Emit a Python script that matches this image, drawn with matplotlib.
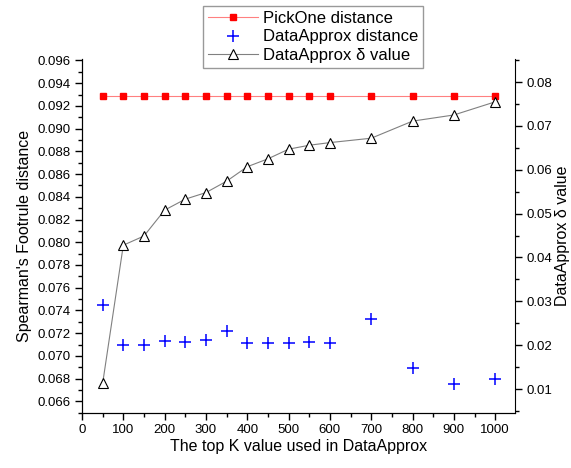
import matplotlib
matplotlib.use('Agg')
import matplotlib.pyplot as plt
from matplotlib.ticker import MultipleLocator, FormatStrFormatter

plt.rcParams['font.family'] = ['Liberation Sans', 'DejaVu Sans']

# top K verdier
k_verdier = [50, 100, 150, 200, 250, 300, 350, 400, 450, 500, 550, 600, 700, 800, 900, 1000]

pickone_avstand = [0.0929] * len(k_verdier)
dataapprox_avstand = [0.0745, 0.0710, 0.0710, 0.0713, 0.07126, 0.07144, 0.0722, 0.07111,
                      0.0711, 0.07114, 0.0712, 0.0711, 0.07322, 0.06894, 0.06753, 0.06794]
delta_verdi = [0.0113, 0.0428, 0.0449, 0.0508, 0.0533, 0.0548, 0.0574, 0.0607,
               0.0625, 0.0647, 0.0656, 0.0662, 0.0672, 0.0711, 0.0725, 0.0755]

fig = plt.figure(figsize=(5.71, 4.68), dpi=100)
ax = fig.add_axes([0.1436, 0.1182, 0.7584, 0.7551])
ax2 = ax.twinx()

l1, = ax.plot(k_verdier, pickone_avstand, color='#ff8080', linewidth=0.8,
              marker='s', markersize=5, markerfacecolor='red', markeredgecolor='red',
              label='PickOne distance', zorder=3)
l2, = ax.plot(k_verdier, dataapprox_avstand, linestyle='none', marker='+', markersize=8,
              markeredgewidth=1.1, color='blue', label='DataApprox distance', zorder=3)
l3, = ax2.plot(k_verdier, delta_verdi, color='gray', linewidth=0.8, marker='^',
               markersize=7.5, markerfacecolor='white', markeredgecolor='black',
               markeredgewidth=0.8, label='DataApprox δ value')

ax.set_xlim(0, 1048)
ax.set_ylim(0.065, 0.0961)
ax2.set_ylim(0.0046, 0.0852)

ax.xaxis.set_major_locator(MultipleLocator(100))
ax.xaxis.set_minor_locator(MultipleLocator(50))
ax.yaxis.set_major_locator(MultipleLocator(0.002))
ax.yaxis.set_minor_locator(MultipleLocator(0.001))
ax.yaxis.set_major_formatter(FormatStrFormatter('%.3f'))
ax2.yaxis.set_major_locator(MultipleLocator(0.01))
ax2.yaxis.set_minor_locator(MultipleLocator(0.005))
ax2.yaxis.set_major_formatter(FormatStrFormatter('%.2f'))

for a in (ax, ax2):
    a.spines['top'].set_visible(False)
    a.tick_params(which='major', direction='out', length=5, width=1, labelsize=9.5, pad=3)
    a.tick_params(which='minor', direction='out', length=3, width=1)
ax.spines['right'].set_visible(False)

ax.set_xlabel('The top K value used in DataApprox', fontsize=11.5, labelpad=2)
ax.set_ylabel("Spearman's Footrule distance", fontsize=11.5)
ax2.set_ylabel('DataApprox δ value', fontsize=11.5, labelpad=2)

leg = fig.legend(handles=[l1, l2, l3], loc='upper left', bbox_to_anchor=(0.355, 0.987),
                 fontsize=12, frameon=True, fancybox=False, edgecolor='gray',
                 borderpad=0.3, labelspacing=0.2, handlelength=3, handletextpad=0.3,
                 borderaxespad=0)
leg.get_frame().set_linewidth(1)

fig.savefig('out.png', dpi=100)
